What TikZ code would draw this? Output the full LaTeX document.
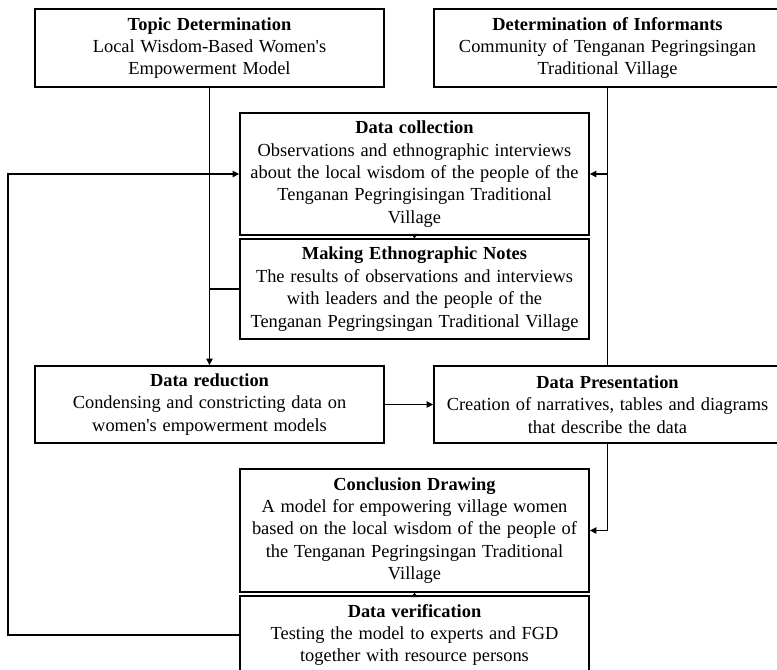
\documentclass[tikz,border=0pt]{standalone}
\usepackage{fontspec}
\setmainfont{Liberation Serif}[WordSpace={1.25,1,1}]
\usetikzlibrary{arrows.meta}
\begin{document}
\begin{tikzpicture}[x=0.75pt,y=-0.75pt,
  box/.style={draw=black, line width=1.2pt, rectangle, inner sep=0pt, align=center,
    font=\fontsize{13.8pt}{16.8pt}\selectfont, text=black},
  conn/.style={draw=black, line width=1pt},
  arr/.style={conn, -{Triangle[length=5pt,width=4.8pt]}},
  sarr/.style={conn, -{Triangle[length=3.2pt,width=5pt]}}]
\clip (0,0) rectangle (777,669);
\fill[white] (0,0) rectangle (777,669);
\node[box, minimum width=261.75pt, minimum height=58.5pt] (topic) at (209.5,48)
  {\textbf{Topic Determination}\\Local Wisdom-Based Women\textquotesingle s\\Empowerment Model};
\node[box, minimum width=260.25pt, minimum height=58.5pt] (inf) at (607.5,48)
  {\textbf{Determination of Informants}\\Community of Tenganan Pegringsingan\\Traditional Village};
\node[box, minimum width=261.75pt, minimum height=91.5pt] (coll) at (414.5,174)
  {\textbf{Data collection}\\Observations and ethnographic interviews\\about the local wisdom of the people of the\\Tenganan Pegringisingan Traditional\\Village};
\node[box, minimum width=261.75pt, minimum height=75pt] (notes) at (414.5,289)
  {\textbf{Making Ethnographic Notes}\\The results of observations and interviews\\with leaders and the people of the\\Tenganan Pegringsingan Traditional Village};
\node[box, minimum width=261.75pt, minimum height=57.75pt] (red) at (209.5,404.5)
  {\textbf{Data reduction}\\Condensing and constricting data on\\women\textquotesingle s empowerment models};
\node[box, minimum width=260.25pt, minimum height=57.75pt] (pres) at (607.5,404.5)
  {\textbf{Data Presentation}\\Creation of narratives, tables and diagrams\\that describe the data};
\node[box, minimum width=261.75pt, minimum height=92.25pt] (concl) at (414.5,530.5)
  {\textbf{Conclusion Drawing}\\A model for empowering village women\\based on the local wisdom of the people of\\the Tenganan Pegringsingan Traditional\\Village};
\node[box, minimum width=261.75pt, minimum height=58.5pt] (verif) at (414.5,635)
  {\textbf{Data verification}\\Testing the model to experts and FGD\\together with resource persons};
\coordinate (fb) at (8,174);
% connectors
\draw[arr] (topic.south) -- (red.north);
\draw[conn] (notes.west) -- (notes.west -| topic.south);
\draw[sarr] (coll.south) -- (notes.north);
\draw[conn] (inf.south) -- (pres.north);
\draw[arr] (inf.south |- coll.east) -- (coll.east);
\draw[arr] (red.east) -- (pres.west);
\draw[arr] (pres.south) |- (concl.east);
\draw[sarr] (verif.north) -- (concl.south);
\draw[arr] (verif.west) -| (fb) -- (coll.west);
\end{tikzpicture}
\end{document}
